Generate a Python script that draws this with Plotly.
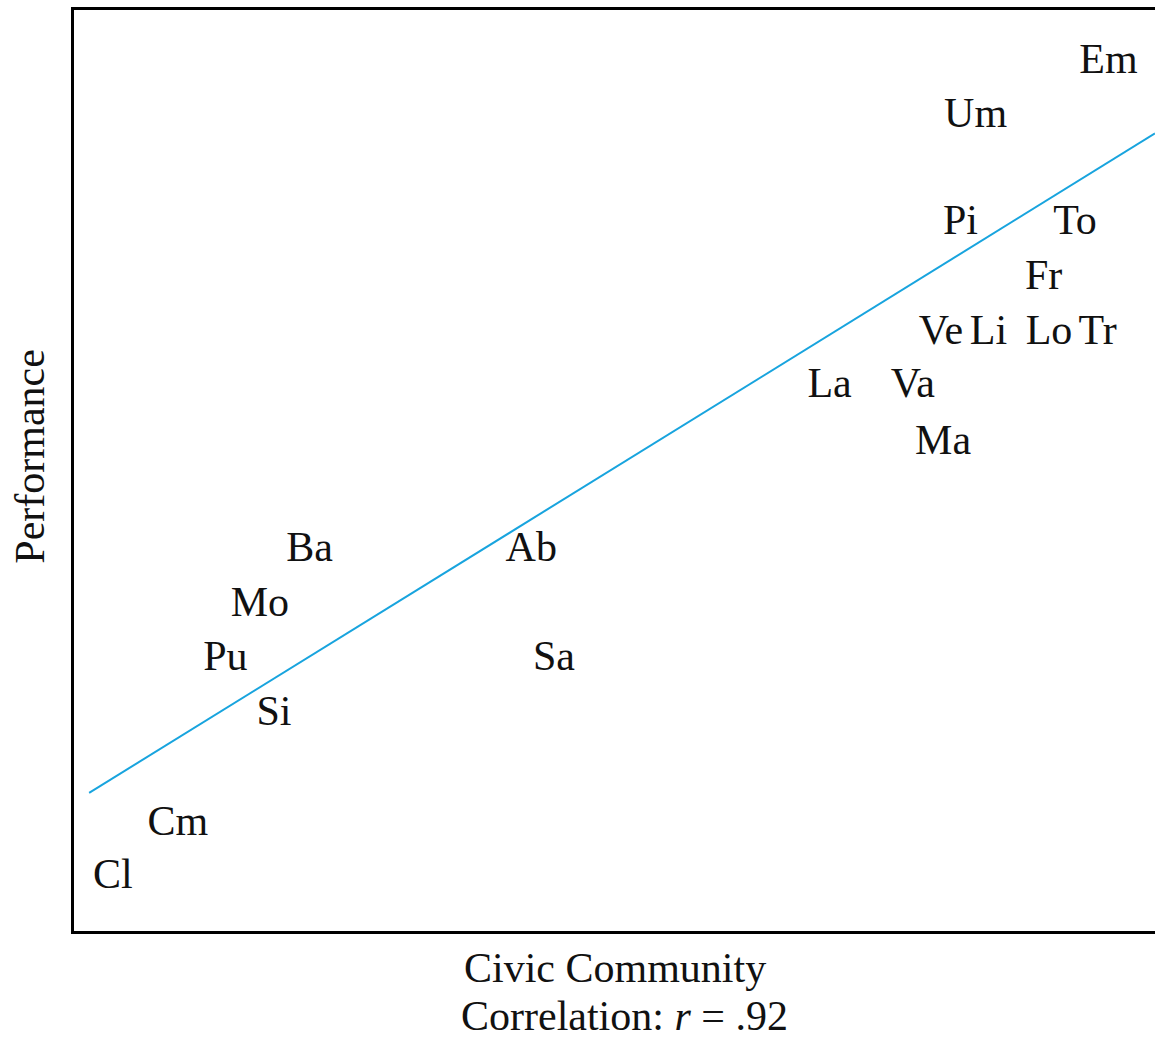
import plotly.graph_objects as go

# Italian regions: civic community score (x) vs institutional performance (y)
regions = ["Cl", "Cm", "Si", "Pu", "Mo", "Ba", "Ab", "Sa", "La", "Va",
           "Ma", "Ve", "Li", "Lo", "Tr", "Fr", "Pi", "To", "Um", "Em"]
civic = [3.6, 9.6, 18.5, 14.0, 17.2, 21.8, 42.3, 44.4, 69.9, 77.6,
         80.4, 80.2, 84.6, 90.2, 94.7, 89.7, 82.0, 92.6, 83.4, 95.7]
performance = [5.8, 11.6, 23.5, 29.5, 35.3, 41.3, 41.3, 29.5, 59.1, 59.1,
               52.9, 64.9, 64.9, 64.9, 64.9, 70.9, 76.8, 76.8, 88.4, 94.3]

# Least-squares fit line endpoints
fit_x = [1.4, 100.0]
fit_y = [15.0, 86.6]

SERIF = "Liberation Serif, Times New Roman, serif"

fig = go.Figure()

fig.add_trace(go.Scatter(
    x=fit_x, y=fit_y, mode="lines",
    line=dict(color="#18a4de", width=2),
    hoverinfo="skip", showlegend=False,
))

fig.add_trace(go.Scatter(
    x=civic, y=performance, mode="text", text=regions,
    textposition="middle center",
    textfont=dict(family=SERIF, size=42, color="#111111"),
    showlegend=False,
))

fig.update_xaxes(
    range=[0, 100], showgrid=False, zeroline=False, showticklabels=False,
    ticks="", showline=True, mirror=True, linecolor="black", linewidth=3,
)
fig.update_yaxes(
    range=[0, 100], showgrid=False, zeroline=False, showticklabels=False,
    ticks="", showline=True, mirror=False, linecolor="black", linewidth=3,
)

fig.add_annotation(
    text="Performance", textangle=-90, showarrow=False,
    xref="paper", yref="paper", x=0, y=0.515, xanchor="center", yanchor="middle",
    xshift=-44, font=dict(family=SERIF, size=42, color="#111111"),
)
fig.add_annotation(
    text="Civic Community", showarrow=False,
    xref="paper", yref="paper", x=0.5, y=0, xanchor="center", yanchor="middle",
    xshift=0, yshift=-37, font=dict(family=SERIF, size=42, color="#111111"),
)
fig.add_annotation(
    text="Correlation: <i>r</i> = .92", showarrow=False,
    xref="paper", yref="paper", x=0.5, y=0, xanchor="center", yanchor="middle",
    xshift=10, yshift=-85, font=dict(family=SERIF, size=42, color="#111111"),
)

fig.update_layout(
    width=1155, height=1037,
    margin=dict(l=74, r=0, t=10, b=106),
    paper_bgcolor="white", plot_bgcolor="white",
)

fig.write_html("out.html")
